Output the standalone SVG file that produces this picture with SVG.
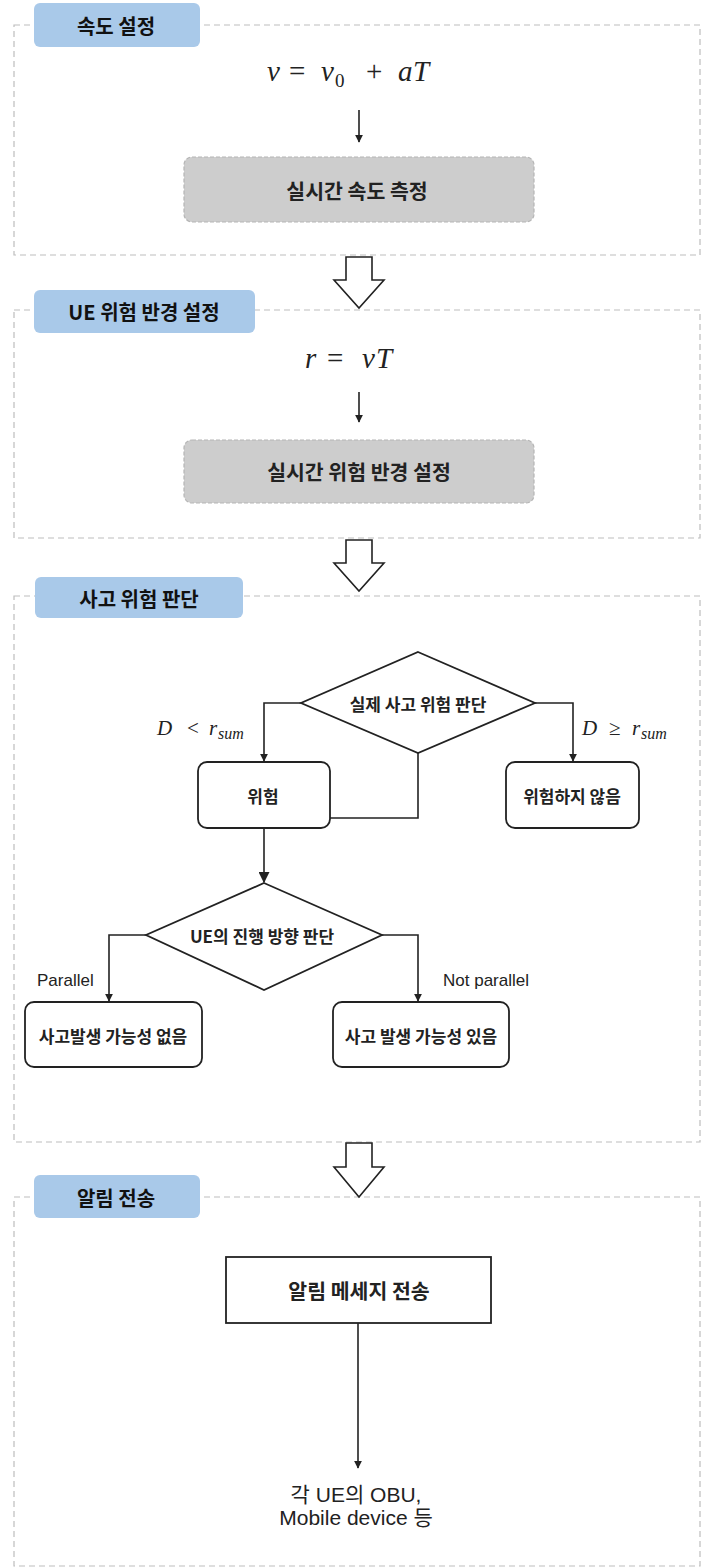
<svg xmlns="http://www.w3.org/2000/svg" width="709" height="1568" viewBox="0 0 709 1568">
<defs>
<marker id="ah" viewBox="0 0 10 10" refX="9" refY="5" markerWidth="8" markerHeight="8" markerUnits="userSpaceOnUse" orient="auto"><path d="M0,0 L10,5 L0,10 z" fill="#222"/></marker>
<marker id="ah2" viewBox="0 0 10 10" refX="9" refY="5" markerWidth="11" markerHeight="11" markerUnits="userSpaceOnUse" orient="auto"><path d="M0,0 L10,5 L0,10 z" fill="#222"/></marker>
<style>
.sec{fill:none;stroke:#bdbdbd;stroke-width:1.2;stroke-dasharray:6 4}
.tab{fill:#a9c9e9;stroke:none}
.tabt{font-family:"Noto Sans CJK KR",sans-serif;font-weight:700;font-size:20px;fill:#111;text-anchor:middle;dominant-baseline:central}
.gray{fill:#cdcdcd;stroke:#b5b5b5;stroke-width:1.2;stroke-dasharray:4 2}
.gt{font-family:"Noto Sans CJK KR",sans-serif;font-weight:700;font-size:20.5px;fill:#222;text-anchor:middle;dominant-baseline:central}
.box{fill:#fff;stroke:#222;stroke-width:1.8}
.bt{font-family:"Noto Sans CJK KR",sans-serif;font-weight:700;font-size:17px;fill:#222;text-anchor:middle;dominant-baseline:central}
.math{font-family:"Liberation Serif",serif;fill:#222}
.it{font-style:italic}
.line{fill:none;stroke:#222;stroke-width:1.6}
.big{fill:#fff;stroke:#222;stroke-width:1.6;stroke-linejoin:miter}
.lbl{font-family:"Liberation Sans",Arial,sans-serif;font-size:17px;fill:#222}
.rt{font-family:"Liberation Sans","Noto Sans CJK KR",sans-serif;font-size:21px;fill:#222;text-anchor:middle}
</style>
</defs>

<g id="section1">
<rect class="sec" x="14" y="25" width="686" height="230"/>
<rect class="tab" x="34" y="3" width="166" height="44" rx="6"/>
<text class="tabt" x="116" y="25">속도 설정</text>
</g>
<g id="formula1">
<text class="math" y="81" font-size="29"><tspan class="it" x="267">v</tspan><tspan x="289">=</tspan><tspan class="it" x="321">v</tspan><tspan x="335" dy="6" font-size="19">0</tspan><tspan x="366" dy="-6">+</tspan><tspan class="it" x="398">a</tspan><tspan class="it" x="413">T</tspan></text>
</g>
<g id="speed-measure">
<rect class="gray" x="184" y="157" width="350" height="65" rx="8"/>
<text class="gt" x="357" y="190">실시간 속도 측정</text>
</g>

<g id="section2">
<rect class="sec" x="14" y="310" width="686" height="228"/>
<rect class="tab" x="34" y="290" width="221" height="43" rx="6"/>
<text class="tabt" x="144" y="311">UE 위험 반경 설정</text>
</g>
<g id="formula2">
<text class="math" y="368" font-size="29"><tspan class="it" x="305">r</tspan><tspan x="327">=</tspan><tspan class="it" x="362">v</tspan><tspan class="it" x="376">T</tspan></text>
</g>
<g id="radius-set">
<rect class="gray" x="184" y="440" width="350" height="63" rx="8"/>
<text class="gt" x="359" y="471">실시간 위험 반경 설정</text>
</g>

<g id="section3">
<rect class="sec" x="14" y="596" width="686" height="546"/>
<rect class="tab" x="35" y="577" width="208" height="41" rx="6"/>
<text class="tabt" x="139" y="598">사고 위험 판단</text>
</g>
<g id="decision1">
<polygon class="box" points="418,652 535,703 418,753 301,703"/>
<text class="bt" x="418" y="703">실제 사고 위험 판단</text>
</g>
<g id="danger">
<rect class="box" x="198" y="762" width="132" height="66" rx="9"/>
<text class="bt" x="263" y="795">위험</text>
</g>
<g id="nodanger">
<rect class="box" x="506" y="762" width="133" height="66" rx="9"/>
<text class="bt" x="572" y="795">위험하지 않음</text>
</g>
<g id="decision2">
<polygon class="box" points="264,883 382,935 264,990 146,935"/>
<text class="bt" x="262" y="935">UE의 진행 방향 판단</text>
</g>
<g id="no-accident">
<rect class="box" x="25" y="1002" width="177" height="65" rx="9"/>
<text class="bt" x="113" y="1035">사고발생 가능성 없음</text>
</g>
<g id="accident">
<rect class="box" x="333" y="1002" width="176" height="65" rx="9"/>
<text class="bt" x="421" y="1035">사고 발생 가능성 있음</text>
</g>

<g id="section4">
<rect class="sec" x="14" y="1197" width="686" height="369"/>
<rect class="tab" x="34" y="1175" width="166" height="43" rx="6"/>
<text class="tabt" x="116" y="1197">알림 전송</text>
</g>
<g id="alert-send">
<rect class="box" x="226" y="1257" width="265" height="66"/>
<text class="gt" x="359" y="1290">알림 메세지 전송</text>
</g>
<g id="targets">
<text class="rt" x="356" y="1502">각 UE의 OBU,</text>
<text class="rt" x="356" y="1525">Mobile device 등</text>
</g>

<g id="connectors">
<line class="line" x1="359" y1="110" x2="359" y2="142" marker-end="url(#ah)"/>
<line class="line" x1="359" y1="392" x2="359" y2="422" marker-end="url(#ah)"/>
<polygon class="big" points="346,257 372,257 372,280 384,280 359,308 334,280 346,280"/>
<polygon class="big" points="346,540 372,540 372,563 384,563 359,591 334,563 346,563"/>
<polygon class="big" points="346,1143 372,1143 372,1167 384,1167 359,1197 334,1167 346,1167"/>
<polyline class="line" points="301,703 264,703 264,761" marker-end="url(#ah)"/>
<polyline class="line" points="535,703 573,703 573,761" marker-end="url(#ah)"/>
<polyline class="line" points="418,753 418,818 330,818"/>
<line class="line" x1="264" y1="828" x2="264" y2="882" stroke-width="2.2" marker-end="url(#ah2)"/>
<polyline class="line" points="146,935 109,935 109,1001" marker-end="url(#ah)"/>
<polyline class="line" points="382,935 418,935 418,1001" marker-end="url(#ah)"/>
<line class="line" x1="358" y1="1323" x2="358" y2="1468" marker-end="url(#ah)"/>
<text class="math" y="735" font-size="21"><tspan class="it" x="157">D</tspan><tspan x="187">&lt;</tspan><tspan class="it" x="209">r</tspan><tspan class="it" x="218" dy="4" font-size="16">sum</tspan></text>
<text class="math" y="735" font-size="21"><tspan class="it" x="582">D</tspan><tspan x="609">≥</tspan><tspan class="it" x="632">r</tspan><tspan class="it" x="641" dy="4" font-size="16">sum</tspan></text>
<text class="lbl" x="37" y="986">Parallel</text>
<text class="lbl" x="443" y="986">Not parallel</text>
</g>
</svg>
